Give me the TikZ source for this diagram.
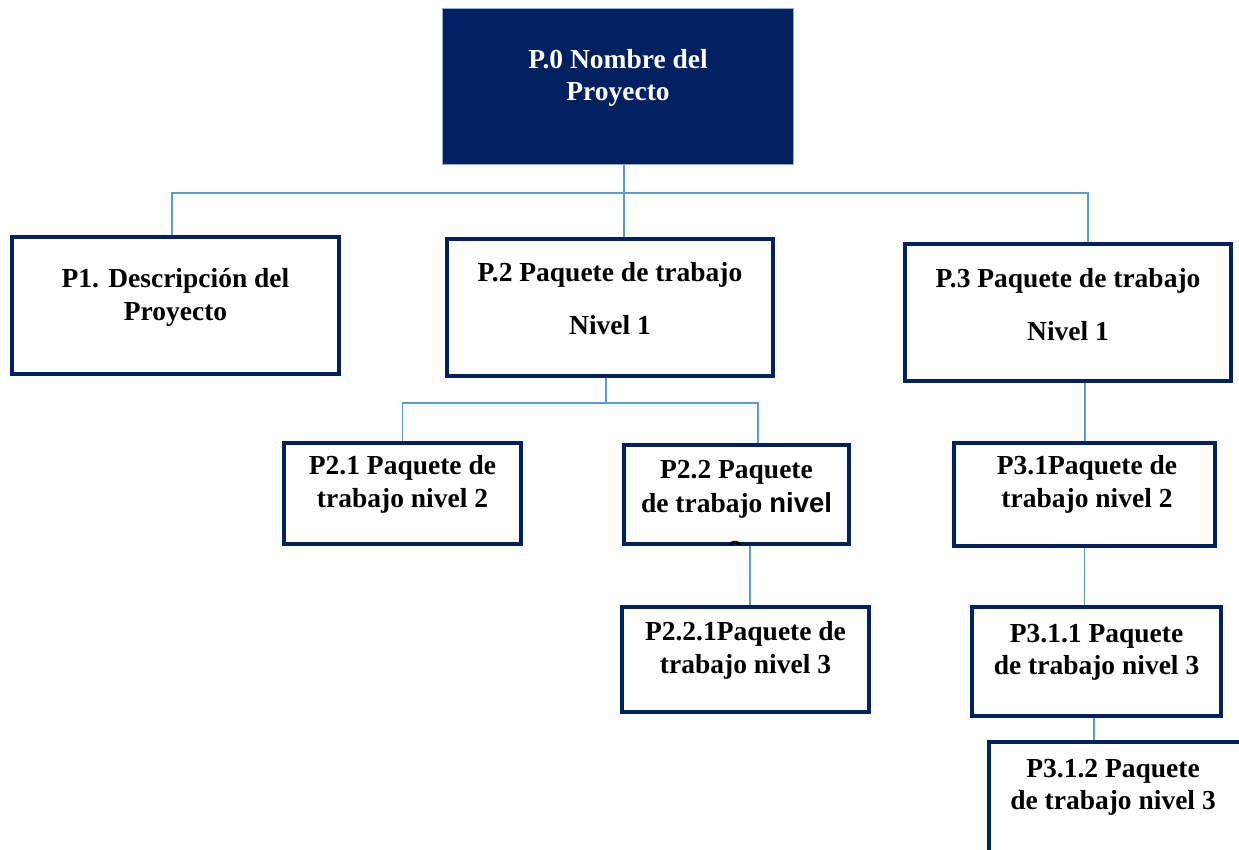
\documentclass[tikz,border=0pt]{standalone}
\usepackage{fontspec}
\setmainfont{Liberation Serif}
\newfontfamily\sansbold{Liberation Sans}
\usetikzlibrary{backgrounds}
\definecolor{navy}{HTML}{002060}
\definecolor{linkblue}{HTML}{5B9BD5}
\definecolor{edgeblue}{HTML}{8FAADC}
\tikzset{
    box/.style={draw=navy, line width=4pt, fill=white, inner sep=0pt},
    topbox/.style={draw=edgeblue, line width=1pt, fill=navy, inner sep=0pt},
    lbl/.style={align=center, inner sep=0pt, font=\bfseries\fontsize{27.5}{32.5}\selectfont},
    link/.style={draw=linkblue, line width=1.2pt},
}
\begin{document}
\begin{tikzpicture}[x=1pt, y=-1pt]
            \useasboundingbox (0,0) rectangle (1239,850);
            \clip (0,0) rectangle (1239,850);

            % boxes
            \node[topbox, minimum width=351pt, minimum height=156pt] (p0) at (618,86.5) {};
            \node[box, minimum width=327pt, minimum height=137pt] (p1) at (175.5,305.5) {};
            \node[box, minimum width=326pt, minimum height=137pt] (p2) at (610,307.5) {};
            \node[box, minimum width=326pt, minimum height=137pt] (p3) at (1068,312.5) {};
            \node[box, minimum width=237pt, minimum height=101pt] (p21) at (402.5,493.5) {};
            \node[box, minimum width=225pt, minimum height=99pt] (p22) at (736.5,494.5) {};
            \node[box, minimum width=247pt, minimum height=105pt] (p221) at (745.5,659.5) {};
            \node[box, minimum width=261pt, minimum height=103pt] (p31) at (1084.5,494.5) {};
            \node[box, minimum width=249pt, minimum height=109pt] (p311) at (1096.5,661.5) {};
            \node[box, minimum width=256pt, minimum height=136pt] (p312) at (1117,810) {};

            % texts
            \node[lbl, text=white] (p0t) at (618,78) {P.0 Nombre del\\Proyecto};
            \node[lbl] (p1t) at (175.5,297.5) {P1. Descripción del\\Proyecto};
            \node[lbl] (p2t) at (610,298.5) {P.2 Paquete de trabajo\\[20pt]Nivel 1};
            \node[lbl] (p3t) at (1068,304.5) {P.3 Paquete de trabajo\\[20pt]Nivel 1};
            \node[lbl] (p21t) at (402.5,484.5) {P2.1 Paquete de\\trabajo nivel 2};
            \node[lbl] (p22t) at (736.5,489.5) {P2.2 Paquete\\[2pt]de trabajo {\sansbold nivel}};
            \node[lbl] (p221t) at (745.5,650.5) {P2.2.1Paquete de\\trabajo nivel 3};
            \node[lbl] (p31t) at (1087,484.5) {P3.1Paquete de\\trabajo nivel 2};
            \node[lbl] (p311t) at (1096.5,652.5) {P3.1.1 Paquete\\de trabajo nivel 3};
            \node[lbl] (p312t) at (1113,787.5) {P3.1.2 Paquete\\de trabajo nivel 3};

            % last line of P2.2, cut by its box
            \begin{scope}
                \clip ([shift={(2pt,2pt)}]p22.south west) rectangle ([shift={(-2pt,-2pt)}]p22.north east);
                \node[lbl] (p22u) at (735,551) {\sansbold 2};
            \end{scope}

            % links
            \begin{scope}[on background layer]
                \coordinate (bus0) at (624,193);
                \coordinate (bus2) at (606,403);
                \draw[link] (p0.south -| bus0) -- (p2.north -| bus0);
                \draw[link] ([xshift=-3.5pt]p1.north) |- (bus0) -| ([xshift=20pt]p3.north);
                \draw[link] (p2.south -| bus2) -- (bus2);
                \draw[link] (p21.north) |- (bus2) -| ([xshift=21.5pt]p22.north);
                \draw[link] ([xshift=13.5pt]p22.south) -- ([xshift=13.5pt]p22.south |- p221.north);
                \draw[link] ([xshift=17pt]p3.south) -- ([xshift=17pt]p3.south |- p31.north);
                \draw[link] (p31.south) -- (p31.south |- p311.north);
                \draw[link] ([xshift=-2.5pt]p311.south) -- ([xshift=-2.5pt]p311.south |- p312.north);
            \end{scope}
\end{tikzpicture}
\end{document}
